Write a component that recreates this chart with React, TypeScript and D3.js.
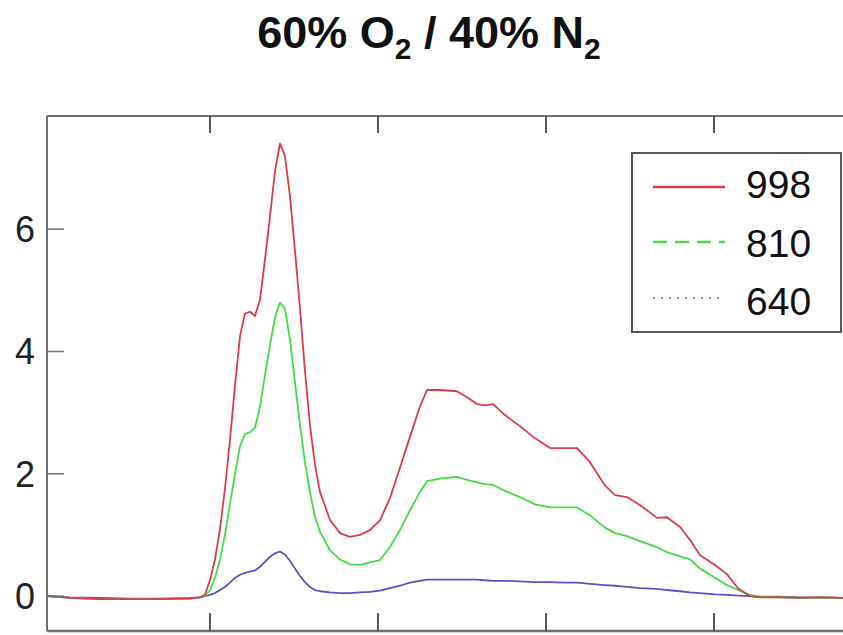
import React from "react";
import * as d3 from "d3";

// x positions (arbitrary units, ticks at 200..500)
const xs = [
  103.0, 116.7, 134.5, 152.4, 170.2, 188.1, 194.0, 197.0, 200.0, 203.0, 206.0, 208.9, 211.9,
  214.9, 217.9, 220.8, 223.8, 226.8, 229.8, 232.7, 235.7, 238.7, 241.7, 244.6, 247.6, 250.6,
  253.6, 256.5, 259.5, 262.5, 265.5, 271.4, 277.4, 283.3, 289.3, 295.2, 301.2, 307.1, 313.1,
  319.0, 325.0, 329.2, 336.9, 347.0, 353.0, 358.9, 363.7, 368.5, 375.6, 384.5, 393.5, 402.4,
  411.3, 418.5, 426.2, 435.1, 441.1, 448.2, 455.9, 466.1, 472.0, 479.8, 485.7, 491.7, 500.6,
  507.7, 514.3, 521.4, 527.4, 539.3, 551.2, 563.1, 576.8,
];

const s998 = [
  0.0, -0.03, -0.05, -0.05, -0.05, -0.04, -0.02, 0.02, 0.26, 0.6, 1.1, 1.75, 2.55,
  3.45, 4.25, 4.62, 4.65, 4.58, 4.85, 5.5, 6.2, 6.95, 7.4, 7.2, 6.55, 5.65,
  4.7, 3.7, 2.8, 2.15, 1.7, 1.25, 1.03, 0.97, 1.0, 1.08, 1.24, 1.6, 2.1,
  2.6, 3.1, 3.37, 3.37, 3.35, 3.25, 3.14, 3.12, 3.14, 2.96, 2.78, 2.58, 2.42,
  2.42, 2.42, 2.19, 1.81, 1.65, 1.62, 1.49, 1.28, 1.29, 1.13, 0.92, 0.67, 0.51,
  0.36, 0.13, 0.0, -0.02, -0.02, -0.03, -0.02, -0.03,
];

const s810 = [
  0.0, -0.03, -0.05, -0.05, -0.04, -0.04, -0.02, 0.0, 0.1, 0.3, 0.6, 1.0, 1.5,
  2.0, 2.45, 2.65, 2.68, 2.75, 3.1, 3.6, 4.1, 4.55, 4.8, 4.7, 4.2, 3.5,
  2.8, 2.2, 1.7, 1.3, 1.05, 0.75, 0.6, 0.52, 0.51, 0.55, 0.59, 0.8, 1.08,
  1.4, 1.7, 1.88, 1.92, 1.95, 1.9, 1.86, 1.83, 1.82, 1.72, 1.62, 1.5, 1.45,
  1.45, 1.45, 1.32, 1.12, 1.03, 0.98, 0.9, 0.8, 0.72, 0.65, 0.6, 0.45, 0.3,
  0.18, 0.1, 0.02, -0.01, -0.02, -0.03, -0.02, -0.03,
];

const s640 = [
  0.0, -0.02, -0.03, -0.04, -0.04, -0.03, -0.02, 0.0, 0.02, 0.05, 0.1, 0.15, 0.22,
  0.3, 0.35, 0.38, 0.4, 0.42, 0.48, 0.56, 0.64, 0.7, 0.73, 0.68, 0.58, 0.45,
  0.33, 0.23, 0.15, 0.1, 0.08, 0.06, 0.05, 0.05, 0.06, 0.07, 0.09, 0.13, 0.17,
  0.22, 0.25, 0.27, 0.27, 0.27, 0.27, 0.27, 0.26, 0.25, 0.25, 0.24, 0.23, 0.23,
  0.22, 0.22, 0.2, 0.18, 0.17, 0.15, 0.13, 0.12, 0.1, 0.08, 0.06, 0.05, 0.03,
  0.02, 0.01, 0.0, -0.01, -0.01, -0.02, -0.02, -0.03,
];

const seriesNames = ["998", "810", "640"];
const seriesColors = ["#dd3b4a", "#44dd44", "#5454c8"];
const yTicks = [0, 2, 4, 6];
const xTicks = [200, 300, 400, 500];

export default function App() {
  const W = 843;
  const H = 635;
  const left = 47;
  const top = 116;
  const bottom = 631;
  const right = 843;

  const x = d3.scaleLinear().domain([103, 576.8]).range([left, right]);
  const y = d3.scaleLinear().domain([-0.57, 7.85]).range([bottom, top]);

  const allSeries = [s998, s810, s640];
  const line = (vals: number[]) =>
    d3
      .line<number>()
      .x((_, i) => x(xs[i]))
      .y((v) => y(v))(vals) || "";

  const axisColor = "#707070";
  const font = "'Liberation Sans', Arial, sans-serif";

  const legendLineY = [187, 242, 298];
  const legendTextY = [198, 257, 315];

  return (
    <svg
      width={W}
      height={H}
      style={{ position: "absolute", left: 0, top: 0, background: "#fff" }}
    >
      <rect x={0} y={0} width={W} height={H} fill="#fff" />
      <defs>
        <clipPath id="plotclip">
          <rect x={left} y={top} width={right - left} height={bottom - top} />
        </clipPath>
      </defs>

      {/* title */}
      <text
        x={429}
        y={48}
        textAnchor="middle"
        fontFamily={font}
        fontWeight="bold"
        fontSize={45}
        fill="#111"
      >
        <tspan>60% O</tspan>
        <tspan fontSize={30} dy={11}>2</tspan>
        <tspan dy={-11}> / 40% N</tspan>
        <tspan fontSize={30} dy={11}>2</tspan>
      </text>

      {/* curves (640 drawn first so others on top) */}
      <g clipPath="url(#plotclip)">
        {[2, 1, 0].map((k) => (
          <path
            key={k}
            d={line(allSeries[k])}
            fill="none"
            stroke={seriesColors[k]}
            strokeWidth={1.8}
            strokeLinejoin="round"
          />
        ))}
      </g>

      {/* frame */}
      <line x1={left} x2={left} y1={top} y2={bottom} stroke={axisColor} strokeWidth={2} />
      <line x1={left} x2={right} y1={top} y2={top} stroke={axisColor} strokeWidth={2} />
      <line x1={left} x2={right} y1={bottom} y2={bottom} stroke={axisColor} strokeWidth={2.5} />

      {/* y ticks */}
      {yTicks.map((t) => (
        <g key={t}>
          <line x1={left} x2={left + 17} y1={y(t)} y2={y(t)} stroke={axisColor} strokeWidth={1.5} />
          <text
            x={35}
            y={y(t)}
            dy="0.36em"
            textAnchor="end"
            fontFamily={font}
            fontSize={36}
            fill="#222"
          >
            {t}
          </text>
        </g>
      ))}

      {/* x ticks (top and bottom, inward) */}
      {xTicks.map((t) => (
        <g key={t}>
          <line x1={x(t)} x2={x(t)} y1={bottom} y2={bottom - 18} stroke="#555" strokeWidth={2} />
          <line x1={x(t)} x2={x(t)} y1={top} y2={top + 17} stroke="#555" strokeWidth={2} />
        </g>
      ))}

      {/* legend */}
      <rect x={632} y={153} width={209} height={179} fill="#fff" stroke="#555" strokeWidth={2} />
      {seriesNames.map((name, i) => (
        <g key={name}>
          <line
            x1={653}
            x2={725}
            y1={legendLineY[i]}
            y2={legendLineY[i]}
            stroke={i === 2 ? "#777" : seriesColors[i]}
            strokeWidth={i === 2 ? 1.5 : 2.5}
            strokeDasharray={i === 1 ? "14,8" : i === 2 ? "2,6" : undefined}
          />
          <text x={746} y={legendTextY[i]} fontFamily={font} fontSize={39} fill="#111">
            {name}
          </text>
        </g>
      ))}
    </svg>
  );
}
